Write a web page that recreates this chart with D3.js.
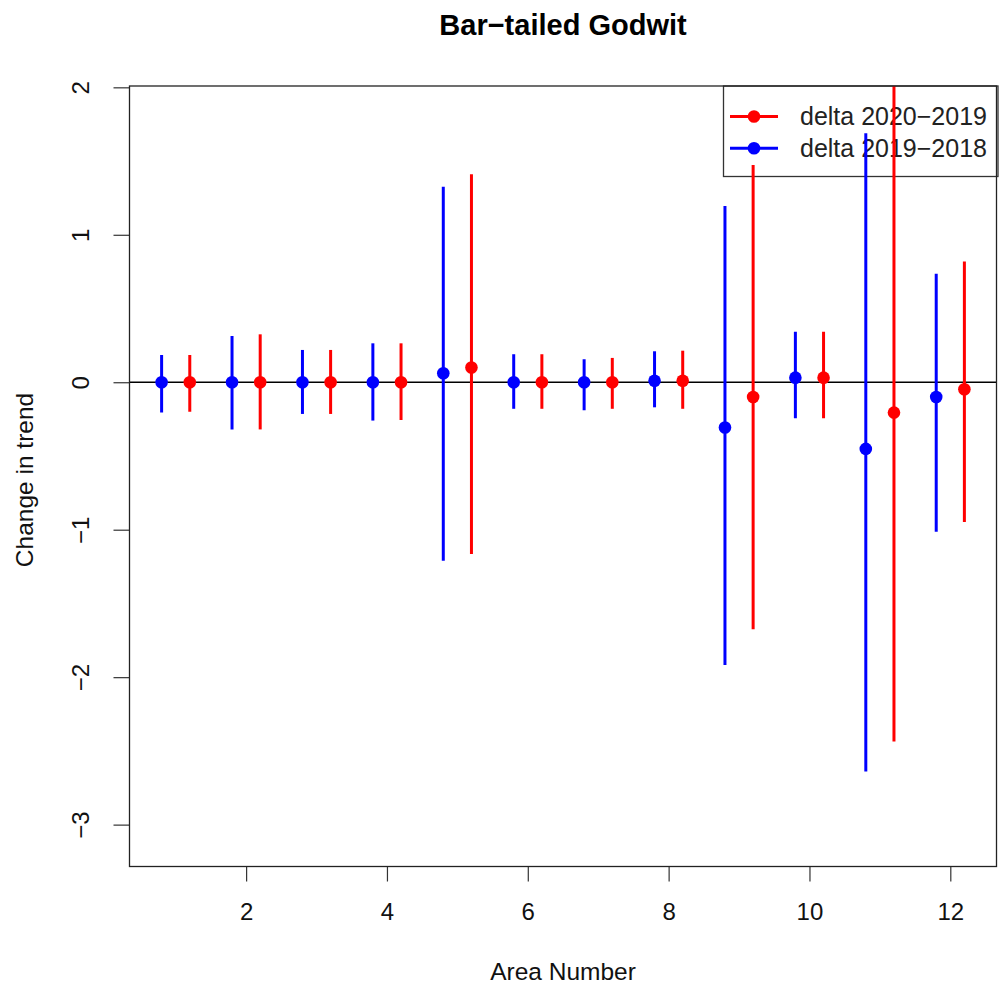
<!DOCTYPE html>
<html>
<head>
<meta charset="utf-8">
<script src="https://cdn.jsdelivr.net/npm/d3@7"></script>
<style>
  html, body { margin: 0; padding: 0; background: #fff; }
  svg { display: block; font-family: "Liberation Sans", Arial, Helvetica, sans-serif; }
</style>
</head>
<body>
<svg id="chart" width="999" height="985"></svg>
<script>
// ---- Data ----
const areas = [1, 2, 3, 4, 5, 6, 7, 8, 9, 10, 11, 12];

const seriesNames = ["delta 2020\u22122019", "delta 2019\u22122018"];
const seriesColors = ["#ff0000", "#0000ff"];
const seriesOffsets = [0.2, -0.2];

// delta 2020-2019 (red)
const redEst   = [0, 0, 0, 0, 0.10, 0, 0, 0.01, -0.10, 0.031, -0.206, -0.047];
const redLower = [-0.20, -0.32, -0.215, -0.256, -1.164, -0.18, -0.18, -0.18, -1.675, -0.244, -2.437, -0.947];
const redUpper = [0.185, 0.325, 0.219, 0.264, 1.41, 0.19, 0.165, 0.214, 1.473, 0.343, 2.10, 0.818];

// delta 2019-2018 (blue)
const blueEst   = [0, 0, 0, 0, 0.061, 0, 0, 0.01, -0.307, 0.031, -0.452, -0.10];
const blueLower = [-0.206, -0.32, -0.215, -0.26, -1.21, -0.18, -0.19, -0.17, -1.917, -0.244, -2.64, -1.014];
const blueUpper = [0.185, 0.314, 0.219, 0.264, 1.326, 0.19, 0.156, 0.21, 1.195, 0.343, 1.688, 0.735];

const xTicks = [2, 4, 6, 8, 10, 12];
const yTicks = [-3, -2, -1, 0, 1, 2];

const titleText = "Bar\u2212tailed Godwit";
const xLabel = "Area Number";
const yLabel = "Change in trend";

// ---- Layout ----
const plot = { left: 129.5, right: 996.5, top: 86, bottom: 866.5 };

const x = d3.scaleLinear().domain([0.344, 12.656]).range([plot.left, plot.right]);
const y = d3.scaleLinear().domain([-3.284, 2.009]).range([plot.bottom, plot.top]);

const svg = d3.select("#chart");

// clip
svg.append("defs").append("clipPath").attr("id", "plotclip")
  .append("rect")
  .attr("x", plot.left).attr("y", plot.top)
  .attr("width", plot.right - plot.left).attr("height", plot.bottom - plot.top);

// Title
svg.append("text")
  .attr("x", (plot.left + plot.right) / 2).attr("y", 35)
  .attr("text-anchor", "middle")
  .attr("font-size", 29).attr("font-weight", "bold")
  .attr("fill", "#000")
  .text(titleText);

// X axis
const xAxis = d3.axisBottom(x).tickValues(xTicks).tickSize(15).tickPadding(0)
  .tickFormat(d3.format("d"));
const gx = svg.append("g").attr("transform", `translate(0,${plot.bottom})`).call(xAxis);
gx.select(".domain").remove();
gx.selectAll("line").attr("stroke", "#333").attr("stroke-width", 1.2);
gx.selectAll("text").attr("font-size", 24).attr("fill", "#111")
  .attr("font-family", "Liberation Sans, Arial, sans-serif")
  .attr("dy", null).attr("y", 920 - plot.bottom);

// Y axis
const yAxis = d3.axisLeft(y).tickValues(yTicks).tickSize(16).tickFormat(d => d < 0 ? "\u2212" + Math.abs(d) : d);
const gy = svg.append("g").attr("transform", `translate(${plot.left},0)`).call(yAxis);
gy.select(".domain").remove();
gy.selectAll("line").attr("stroke", "#333").attr("stroke-width", 1.2);
gy.selectAll("text")
  .attr("font-size", 24).attr("fill", "#111")
  .attr("font-family", "Liberation Sans, Arial, sans-serif")
  .attr("x", null).attr("dy", null)
  .attr("text-anchor", "middle")
  .attr("transform", `translate(${89 - plot.left},0) rotate(-90)`)
  .attr("y", 0);

// Axis labels
svg.append("text")
  .attr("x", (plot.left + plot.right) / 2).attr("y", 980)
  .attr("text-anchor", "middle").attr("font-size", 24.5).attr("fill", "#111")
  .text(xLabel);
svg.append("text")
  .attr("transform", `translate(33,480) rotate(-90)`)
  .attr("text-anchor", "middle").attr("font-size", 24.5).attr("fill", "#111")
  .text(yLabel);

// Zero line
svg.append("line")
  .attr("x1", plot.left).attr("x2", plot.right)
  .attr("y1", y(0)).attr("y2", y(0))
  .attr("stroke", "#000").attr("stroke-width", 1.3);

// Legend (drawn before the data, as in the reference)
const legend = svg.append("g");
const lgX = 723.5, lgY = 86, lgW = 998 - 723.5, lgH = 90.5;
legend.append("rect")
  .attr("x", lgX).attr("y", lgY).attr("width", lgW).attr("height", lgH)
  .attr("fill", "#fff").attr("stroke", "#333").attr("stroke-width", 1.3);
seriesNames.forEach((name, i) => {
  const ly = 116.5 + i * 31.8;
  legend.append("line")
    .attr("x1", 730).attr("x2", 778).attr("y1", ly).attr("y2", ly)
    .attr("stroke", seriesColors[i]).attr("stroke-width", 3);
  legend.append("circle")
    .attr("cx", 754).attr("cy", ly).attr("r", 6.3)
    .attr("fill", seriesColors[i]);
  legend.append("text")
    .attr("x", 800).attr("y", ly + 8.5)
    .attr("font-size", 25).attr("fill", "#222")
    .text(name);
});

// Data
const series = [
  { est: redEst, lo: redLower, hi: redUpper },
  { est: blueEst, lo: blueLower, hi: blueUpper }
];

const dataG = svg.append("g").attr("clip-path", "url(#plotclip)");
[1, 0].forEach(si => {
  const s = series[si];
  const rows = areas.map((a, i) => ({ xv: a + seriesOffsets[si], est: s.est[i], lo: s.lo[i], hi: s.hi[i] }));
  const g = dataG.append("g");
  g.selectAll("line").data(rows).join("line")
    .attr("x1", d => x(d.xv)).attr("x2", d => x(d.xv))
    .attr("y1", d => y(d.lo)).attr("y2", d => y(d.hi))
    .attr("stroke", seriesColors[si]).attr("stroke-width", 3);
  g.selectAll("circle").data(rows).join("circle")
    .attr("cx", d => x(d.xv)).attr("cy", d => y(d.est)).attr("r", 6.3)
    .attr("fill", seriesColors[si]);
});

// Plot border
svg.append("rect")
  .attr("x", plot.left).attr("y", plot.top)
  .attr("width", plot.right - plot.left).attr("height", plot.bottom - plot.top)
  .attr("fill", "none").attr("stroke", "#222").attr("stroke-width", 1.3);
</script>
</body>
</html>
